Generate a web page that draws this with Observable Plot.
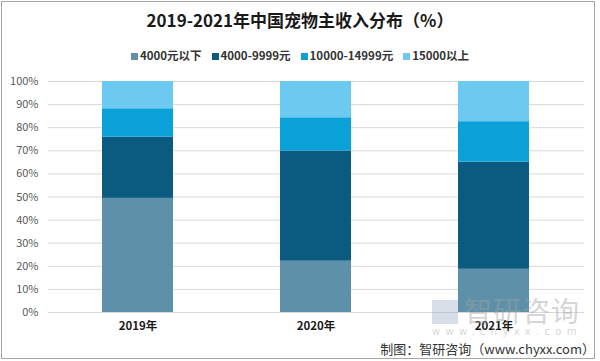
<!DOCTYPE html>
<html>
<head>
<meta charset="utf-8">
<script src="https://cdn.jsdelivr.net/npm/d3@7"></script>
<script src="https://cdn.jsdelivr.net/npm/@observablehq/plot@0.6"></script>
<style>
  html, body { margin: 0; padding: 0; background: #fff; }
  #wrap { position: relative; width: 600px; height: 361px; overflow: hidden; font-family: "Noto Sans CJK SC", "Noto Sans", sans-serif; }
  #frame { position: absolute; left: 1px; top: 1px; width: 594px; height: 358px; border: 1px solid #a6a6a6; box-sizing: border-box; pointer-events: none; }
  #title { position: absolute; left: 0; top: 8px; width: 600px; text-align: center; font-size: 17px; font-weight: bold; color: #1a1a1a; line-height: 24px; }
  #legend { position: absolute; left: 0; top: 46px; width: 600px; text-align: center; font-size: 11.5px; font-weight: bold; color: #333; line-height: 18px; white-space: nowrap; }
  #legend .item { display: inline-block; margin: 0 5px; }
  #legend .sw { display: inline-block; width: 7px; height: 7px; margin-right: 2px; vertical-align: 0px; }
  #chart { position: absolute; left: 0; top: 72px; }
  #wm { position: absolute; left: 432px; top: 294px; width: 152px; color: rgba(160,160,160,0.45); pointer-events: none; white-space: nowrap; }
  #wm .big { font-size: 28px; line-height: 32px; letter-spacing: 1px; }
  #wm .logo { display: inline-block; width: 26px; height: 24px; background: rgba(140,160,190,0.35); margin-right: 6px; vertical-align: -2px; }
  #wm .url { font-size: 10px; letter-spacing: 5.3px; line-height: 12px; font-family: "DejaVu Sans", sans-serif; }
  #caption { position: absolute; right: 5px; top: 340px; font-size: 13px; color: #333; line-height: 18px; white-space: nowrap; }
</style>
</head>
<body>
<div id="wrap">
  <div id="title">2019-2021年中国宠物主收入分布（%）</div>
  <div id="legend"></div>
  <div id="chart"></div>
  <div id="wm"><div class="big"><span class="logo"></span>智研咨询</div><div class="url">www.chyxx.com</div></div>
  <div id="caption">制图：智研咨询（www.chyxx.com）</div>
  <div id="frame"></div>
</div>
<script>
const years = ["2019年", "2020年", "2021年"];
const seriesNames = ["4000元以下", "4000-9999元", "10000-14999元", "15000以上"];
const seriesColors = ["#5e91a9", "#0b5a80", "#0aa0d8", "#6ccaf0"];
const below4000 = [49.4, 22.2, 18.7];
const from4000to9999 = [26.5, 47.7, 46.4];
const from10000to14999 = [12.3, 14.4, 17.5];
const above15000 = [11.8, 15.7, 17.4];
const yTicks = [0, 10, 20, 30, 40, 50, 60, 70, 80, 90, 100];

const seriesValues = [below4000, from4000to9999, from10000to14999, above15000];
const data = [];
seriesNames.forEach((s, i) => {
  years.forEach((y, j) => data.push({ year: y, series: s, value: seriesValues[i][j] }));
});

const legend = document.getElementById("legend");
seriesNames.forEach((s, i) => {
  const it = document.createElement("span");
  it.className = "item";
  it.innerHTML = `<span class="sw" style="background:${seriesColors[i]}"></span>${s}`;
  legend.appendChild(it);
});

const plot = Plot.plot({
  width: 600,
  height: 265,
  marginTop: 9,
  marginBottom: 25,
  marginLeft: 48,
  marginRight: 16,
  style: { fontFamily: "'Noto Sans CJK SC', sans-serif", background: "transparent" },
  x: { domain: years, paddingInner: 0.6, paddingOuter: 0.3, label: null },
  y: { domain: [0, 100], label: null },
  color: { domain: seriesNames, range: seriesColors },
  marks: [
    Plot.gridY(yTicks, { stroke: "#d9d9d9", strokeOpacity: 1, strokeWidth: 1 }),
    Plot.barY(data, Plot.stackY({ order: seriesNames }, { x: "year", y: "value", fill: "series" })),
    Plot.axisY(yTicks, { tickSize: 0, tickPadding: 10, tickFormat: d => d + "%", fontSize: 11, fill: "#595959", label: null }),
    Plot.axisX({ tickSize: 0, tickPadding: 9, fontSize: 11.5, fontWeight: "bold", fill: "#1a1a1a", label: null })
  ]
});
document.getElementById("chart").appendChild(plot);
</script>
</body>
</html>
